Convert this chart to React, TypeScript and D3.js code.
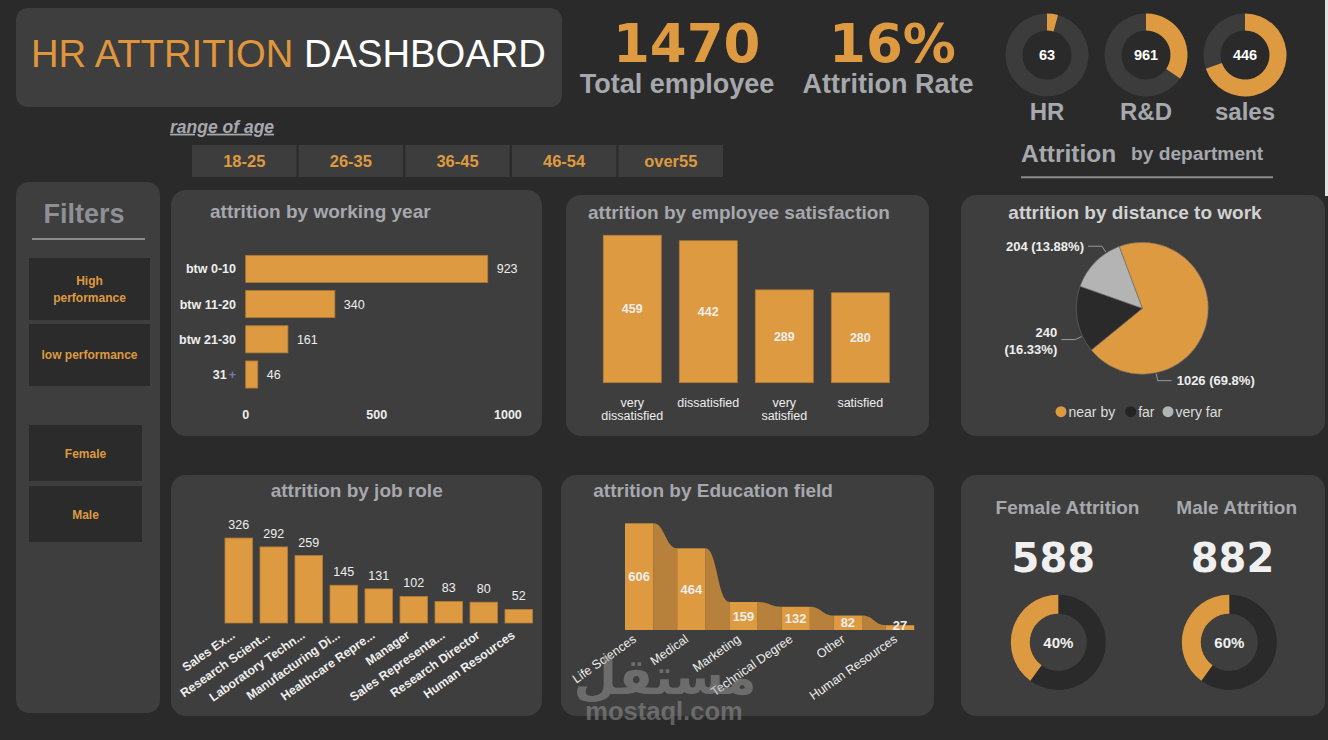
import React from 'react';
import * as d3 from 'd3';

// ---- data ----
const kpiValues = ['1470', '16%'];
const kpiLabels = ['Total employee', 'Attrition Rate'];

const deptNames = ['HR', 'R&D', 'sales'];
const deptCounts = [63, 961, 446];
const deptRingShare = [63, 509, 1024];
const deptTotal = 1470;

const ageRanges = ['18-25', '26-35', '36-45', '46-54', 'over55'];
const perfFilters = [['High', 'performance'], ['low performance']];
const genderFilters = ['Female', 'Male'];

const workYearLabels = ['btw 0-10', 'btw 11-20', 'btw 21-30', '31+'];
const workYearValues = [923, 340, 161, 46];
const workYearTicks = [0, 500, 1000];

const satisfactionLabels = [['very', 'dissatisfied'], ['dissatisfied'], ['very', 'satisfied'], ['satisfied']];
const satisfactionValues = [459, 442, 289, 280];

const distanceLabels = ['near by', 'far', 'very far'];
const distanceValues = [1026, 240, 204];
const distancePct = ['69.8%', '16.33%', '13.88%'];

const jobRoles = ['Sales Ex...', 'Research Scient...', 'Laboratory Techn...', 'Manufacturing Di...', 'Healthcare Repre...', 'Manager', 'Sales Representa...', 'Research Director', 'Human Resources'];
const jobRoleValues = [326, 292, 259, 145, 131, 102, 83, 80, 52];

const eduFields = ['Life Sciences', 'Medical', 'Marketing', 'Technical Degree', 'Other', 'Human Resources'];
const eduValues = [606, 464, 159, 132, 82, 27];

const genderTitles = ['Female Attrition', 'Male Attrition'];
const genderCounts = [588, 882];
const genderPct = ['40%', '60%'];

// ---- styles ----
const FONT = "'Liberation Sans', Arial, sans-serif";
const HEAVY = "'DejaVu Sans', sans-serif";
const BG = '#2a2a2a';
const PANEL = '#3e3e3e';
const ORANGE = '#de9a40';
const RIBBON = '#b7813c';
const GREY_TXT = '#a6a8ad';
const LIGHT = '#eeeeee';
const DARK_SLICE = '#2a2a2a';

function Panel({ x, y, w, h }: { x: number; y: number; w: number; h: number }) {
  return <rect x={x} y={y} width={w} height={h} rx={15} fill={PANEL} />;
}

function Header() {
  return (
    <g>
      <rect x={16} y={8} width={546} height={99} rx={12} fill={PANEL} />
      <text x={31} y={66.7} fontSize={38.2} fontFamily={FONT}>
        <tspan fill="#e0963c">HR ATTRITION </tspan>
        <tspan fill="#ffffff">DASHBOARD</tspan>
      </text>
      {kpiValues.map((v, i) => {
        const cx = [686.7, 892.5][i];
        const lx = [677, 888][i];
        return (
          <g key={v}>
            <text x={cx} y={62} textAnchor="middle" fontFamily={HEAVY} fontWeight="bold" fontSize={53} fill={ORANGE}>{v}</text>
            <text x={lx} y={93} textAnchor="middle" fontFamily={FONT} fontWeight="bold" fontSize={27} fill={GREY_TXT}>{kpiLabels[i]}</text>
          </g>
        );
      })}
    </g>
  );
}

function DeptRings() {
  const x = d3.scalePoint().domain(deptNames).range([1047, 1245]);
  const arc = d3.arc<any>().innerRadius(24.5).outerRadius(41.5);
  return (
    <g>
      {deptNames.map((d, i) => {
        const cx = x(d)!;
        const share = deptRingShare[i] / deptTotal;
        return (
          <g key={d} transform={`translate(${cx},55)`}>
            <path d={arc({ startAngle: 0, endAngle: 2 * Math.PI })!} fill="#3c3c3c" />
            <path d={arc({ startAngle: 0, endAngle: share * 2 * Math.PI })!} fill={ORANGE} />
            <text y={5} textAnchor="middle" fontFamily={FONT} fontWeight="bold" fontSize={14.5} fill="#ffffff">{deptCounts[i]}</text>
            <text y={65} textAnchor="middle" fontFamily={FONT} fontWeight="bold" fontSize={24} fill={GREY_TXT}>{d}</text>
          </g>
        );
      })}
      <text x={1021} y={161.7} fontFamily={FONT} fontWeight="bold" fontSize={24.5} fill={GREY_TXT}>Attrition</text>
      <text x={1131} y={159.5} fontFamily={FONT} fontWeight="bold" fontSize={19.2} fill={GREY_TXT}>by department</text>
      <line x1={1021} x2={1273} y1={177.3} y2={177.3} stroke="#8a8a8a" strokeWidth={2} />
    </g>
  );
}

function AgeSlicer() {
  const x = d3.scaleBand().domain(ageRanges).range([192, 723]).paddingInner(0.02);
  return (
    <g>
      <text x={170} y={132.7} fontFamily={FONT} fontStyle="italic" fontWeight="bold" fontSize={17.5} fill={GREY_TXT} textDecoration="underline">range of age</text>
      {ageRanges.map((a) => (
        <g key={a}>
          <rect x={x(a)} y={145} width={x.bandwidth()} height={32} fill="#3d3d3d" />
          <text x={x(a)! + x.bandwidth() / 2} y={166.5} textAnchor="middle" fontFamily={FONT} fontWeight="bold" fontSize={16.5} fill={ORANGE}>{a}</text>
        </g>
      ))}
    </g>
  );
}

function Filters() {
  const perfTop = [258, 324];
  const genderTop = [425, 486];
  return (
    <g>
      <rect x={16} y={182} width={144} height={531} rx={13} fill={PANEL} />
      <text x={84} y={222.5} textAnchor="middle" fontFamily={FONT} fontWeight="bold" fontSize={27} fill="#8f9095">Filters</text>
      <line x1={32} x2={145} y1={239} y2={239} stroke="#8a8a8a" strokeWidth={2} />
      {perfFilters.map((lines, i) => (
        <g key={i}>
          <rect x={29} y={perfTop[i]} width={121} height={62} fill="#2b2b2b" />
          {lines.map((ln, j) => (
            <text key={ln} x={89.5} y={perfTop[i] + 35 - (lines.length - 1) * 8.5 + j * 17} textAnchor="middle" fontFamily={FONT} fontWeight="bold" fontSize={12} fill={ORANGE}>{ln}</text>
          ))}
        </g>
      ))}
      {genderFilters.map((g, i) => (
        <g key={g}>
          <rect x={29} y={genderTop[i]} width={113} height={56} fill="#2b2b2b" />
          <text x={85.5} y={genderTop[i] + 32.5} textAnchor="middle" fontFamily={FONT} fontWeight="bold" fontSize={12} fill={ORANGE}>{g}</text>
        </g>
      ))}
    </g>
  );
}

function WorkingYear() {
  const x = d3.scaleLinear().domain([0, 1000]).range([245.7, 507.9]);
  const y = d3.scaleBand().domain(workYearLabels).range([251.3, 392.1]).paddingInner(0.23).paddingOuter(0.115);
  return (
    <g>
      <Panel x={171} y={190} w={371} h={246} />
      <text x={210} y={218.3} fontFamily={FONT} fontWeight="bold" fontSize={19} fill={GREY_TXT}>attrition by working year</text>
      {workYearLabels.map((l, i) => {
        const yy = y(l)!;
        const cy = yy + y.bandwidth() / 2;
        return (
          <g key={l}>
            <rect x={x(0)} y={yy} width={x(workYearValues[i]) - x(0)} height={y.bandwidth()} fill={ORANGE} stroke="#b07a36" strokeWidth={0.8} />
            <text x={x(workYearValues[i]) + 9} y={cy + 4.5} fontFamily={FONT} fontSize={12.5} fill={LIGHT}>{workYearValues[i]}</text>
            {l === '31+' ? (
              <text x={236} y={cy + 4.5} textAnchor="end" fontFamily={FONT} fontWeight="bold" fontSize={12.5} fill={LIGHT}>
                31<tspan fill="#7f72b0" dx={2}>+</tspan>
              </text>
            ) : (
              <text x={236} y={cy + 4.5} textAnchor="end" fontFamily={FONT} fontWeight="bold" fontSize={12.5} fill={LIGHT}>{l}</text>
            )}
          </g>
        );
      })}
      {workYearTicks.map((t) => (
        <text key={t} x={x(t)} y={419} textAnchor="middle" fontFamily={FONT} fontWeight="bold" fontSize={12.5} fill={LIGHT}>{t}</text>
      ))}
    </g>
  );
}

function Satisfaction() {
  const keys = satisfactionLabels.map((l) => l.join(' '));
  const x = d3.scaleBand().domain(keys).range([594.3, 898.3]).paddingInner(0.237).paddingOuter(0.118);
  const y = d3.scaleLinear().domain([0, 500]).range([382.7, 222.1]);
  return (
    <g>
      <Panel x={566} y={195} w={363} h={241} />
      <text x={588} y={219.3} fontFamily={FONT} fontWeight="bold" fontSize={19} fill={GREY_TXT}>attrition by employee satisfaction</text>
      {keys.map((k, i) => {
        const v = satisfactionValues[i];
        const cx = x(k)! + x.bandwidth() / 2;
        return (
          <g key={k}>
            <rect x={x(k)} y={y(v)} width={x.bandwidth()} height={y(0) - y(v)} fill={ORANGE} stroke="#b07a36" strokeWidth={0.8} />
            <text x={cx} y={(y(v) + y(0)) / 2 + 4.5} textAnchor="middle" fontFamily={FONT} fontWeight="bold" fontSize={12.5} fill={LIGHT}>{v}</text>
            {satisfactionLabels[i].map((ln, j) => (
              <text key={ln} x={cx} y={406.5 + j * 13.5} textAnchor="middle" fontFamily={FONT} fontSize={12.5} fill={LIGHT}>{ln}</text>
            ))}
          </g>
        );
      })}
    </g>
  );
}

function Distance() {
  const cx = 1142.3, cy = 308.3, r = 66;
  const start = -0.358;
  const pie = d3.pie<number>().sort(null).startAngle(start).endAngle(start + 2 * Math.PI);
  const arcs = pie(distanceValues);
  const arc = d3.arc<any>().innerRadius(0).outerRadius(r);
  const colors = [ORANGE, DARK_SLICE, '#b4b4b4'];
  // angle (deg, clockwise from top) where each leader line leaves the pie
  const leaderAngles = [168, 245, 327];
  const pt = (deg: number, rad: number) => {
    const a = (deg * Math.PI) / 180;
    return [cx + rad * Math.sin(a), cy - rad * Math.cos(a)];
  };
  const legendX = [1061, 1130.7, 1168];
  return (
    <g>
      <Panel x={961} y={195} w={364} h={241} />
      <text x={1135} y={219.3} textAnchor="middle" fontFamily={FONT} fontWeight="bold" fontSize={19} fill="#d2d2d2">attrition by distance to work</text>
      <g transform={`translate(${cx},${cy})`}>
        {arcs.map((a, i) => (
          <path key={i} d={arc(a)!} fill={colors[i]} stroke="#6a6a6a" strokeWidth={0.6} />
        ))}
      </g>
      {arcs.map((a, i) => {
        const deg = leaderAngles[i];
        const right = Math.sin((deg * Math.PI) / 180) >= 0;
        const p0 = pt(deg, r + 1);
        const p1 = pt(deg, r + 8);
        const p2x = p1[0] + (right ? 14 : -14);
        const tx = p2x + (right ? 5 : -4);
        const anchor = right ? 'start' : 'end';
        const v = distanceValues[i];
        const pct = `(${distancePct[i]})`;
        return (
          <g key={i}>
            <polyline points={`${p0[0]},${p0[1]} ${p1[0]},${p1[1]} ${p2x},${p1[1]}`} fill="none" stroke="#9a9a9a" strokeWidth={1} />
            {i === 1 ? (
              <g>
                <text x={tx} y={p1[1] - 2.5} textAnchor={anchor} fontFamily={FONT} fontWeight="bold" fontSize={13} fill={LIGHT}>{v}</text>
                <text x={tx} y={p1[1] + 14.5} textAnchor={anchor} fontFamily={FONT} fontWeight="bold" fontSize={13} fill={LIGHT}>{pct}</text>
              </g>
            ) : (
              <text x={tx} y={p1[1] + 4.5} textAnchor={anchor} fontFamily={FONT} fontWeight="bold" fontSize={13} fill={LIGHT}>{`${v} ${pct}`}</text>
            )}
          </g>
        );
      })}
      {distanceLabels.map((l, i) => (
        <g key={l}>
          <circle cx={legendX[i]} cy={411.7} r={5.5} fill={i === 1 ? '#242424' : colors[i]} />
          <text x={legendX[i] + 7.5} y={416.5} fontFamily={FONT} fontSize={14} fill="#dddddd">{l}</text>
        </g>
      ))}
    </g>
  );
}

function JobRole() {
  const x = d3.scaleBand().domain(jobRoles).range([221.3, 536.3]).paddingInner(0.21).paddingOuter(0.105);
  const y = d3.scaleLinear().domain([0, 350]).range([623, 531.8]);
  return (
    <g>
      <Panel x={171} y={475} w={371} h={241} />
      <text x={356.7} y={497.3} textAnchor="middle" fontFamily={FONT} fontWeight="bold" fontSize={19} fill={GREY_TXT}>attrition by job role</text>
      {jobRoles.map((j, i) => {
        const v = jobRoleValues[i];
        const cx = x(j)! + x.bandwidth() / 2;
        return (
          <g key={j}>
            <rect x={x(j)} y={y(v)} width={x.bandwidth()} height={y(0) - y(v)} fill={ORANGE} stroke="#b07a36" strokeWidth={0.8} />
            <text x={cx} y={y(v) - 9} textAnchor="middle" fontFamily={FONT} fontSize={12.5} fill={LIGHT}>{v}</text>
            <text transform={`translate(${cx - 3},${637}) rotate(-35)`} textAnchor="end" fontFamily={FONT} fontWeight="bold" fontSize={12.3} fill={LIGHT}>{j}</text>
          </g>
        );
      })}
    </g>
  );
}

function Education() {
  const x = d3.scaleBand().domain(eduFields).range([613, 926.2]).paddingInner(0.459).paddingOuter(0.23);
  const y = d3.scaleLinear().domain([0, 650]).range([630, 515.6]);
  const bw = x.bandwidth();
  const ribbons = eduFields.slice(0, -1).map((f, i) => {
    const x0 = x(f)! + bw;
    const x1 = x(eduFields[i + 1])!;
    const y0 = y(eduValues[i]);
    const y1 = y(eduValues[i + 1]);
    const mx = (x0 + x1) / 2;
    return `M${x0},${y(0)}L${x0},${y0}C${mx},${y0} ${mx},${y1} ${x1},${y1}L${x1},${y(0)}Z`;
  });
  return (
    <g>
      <Panel x={561} y={475} w={373} h={241} />
      <text x={593.3} y={497.3} fontFamily={FONT} fontWeight="bold" fontSize={19} fill={GREY_TXT}>attrition by Education field</text>
      {ribbons.map((d, i) => (
        <path key={i} d={d} fill={RIBBON} />
      ))}
      {eduFields.map((f, i) => {
        const v = eduValues[i];
        const cx = x(f)! + bw / 2;
        return (
          <g key={f}>
            <rect x={x(f)} y={y(v)} width={bw} height={y(0) - y(v)} fill={ORANGE} />
            <text x={cx} y={Math.min((y(v) + y(0)) / 2 + 4.5, 630)} textAnchor="middle" fontFamily={FONT} fontWeight="bold" fontSize={13} fill={LIGHT}>{v}</text>
            <text transform={`translate(${cx - 2},${641}) rotate(-35)`} textAnchor="end" fontFamily={FONT} fontSize={12.5} fill={LIGHT}>{f}</text>
          </g>
        );
      })}
    </g>
  );
}

function Gender() {
  const x = d3.scalePoint().domain(genderTitles).range([1058.3, 1229.3]);
  const titleX = [1067.5, 1236.7];
  const numX = [1053.3, 1232.5];
  const pie = d3.pie<number>().sort(null);
  // male share first (dark), female share after it (orange)
  const arcs = pie([genderCounts[1], genderCounts[0]]);
  const arc = d3.arc<any>().innerRadius(28.5).outerRadius(47.5);
  const fills = [DARK_SLICE, ORANGE];
  return (
    <g>
      <Panel x={961} y={475} w={364} h={241} />
      {genderTitles.map((t, i) => (
        <g key={t}>
          <text x={titleX[i]} y={514} textAnchor="middle" fontFamily={FONT} fontWeight="bold" fontSize={19} fill={GREY_TXT}>{t}</text>
          <text x={numX[i]} y={571.7} textAnchor="middle" fontFamily={HEAVY} fontWeight="bold" fontSize={40} fill="#f0f0f0">{genderCounts[i]}</text>
          <g transform={`translate(${x(t)},642.3)`}>
            {arcs.map((a, k) => (
              <path key={k} d={arc(a)!} fill={fills[k]} />
            ))}
            <text y={5.5} textAnchor="middle" fontFamily={FONT} fontWeight="bold" fontSize={15} fill="#f0f0f0">{genderPct[i]}</text>
          </g>
        </g>
      ))}
    </g>
  );
}

function Watermark() {
  return (
    <g opacity={0.5}>
      <text x={665} y={694} textAnchor="middle" fontFamily={HEAVY} fontWeight="bold" fontSize={50} fill="#9a9a9a">مستقل</text>
      <text x={664} y={720} textAnchor="middle" fontFamily={FONT} fontWeight="bold" fontSize={25.5} fill="#9a9a9a">mostaql.com</text>
    </g>
  );
}

export default function App() {
  return (
    <svg width={1328} height={740} style={{ position: 'absolute', left: 0, top: 0, display: 'block' }}>
      <rect width={1328} height={740} fill={BG} />
      <rect x={1325} y={0} width={3} height={196} fill="#e2e2e2" />
      <Header />
      <DeptRings />
      <AgeSlicer />
      <Filters />
      <WorkingYear />
      <Satisfaction />
      <Distance />
      <JobRole />
      <Education />
      <Gender />
      <Watermark />
    </svg>
  );
}
